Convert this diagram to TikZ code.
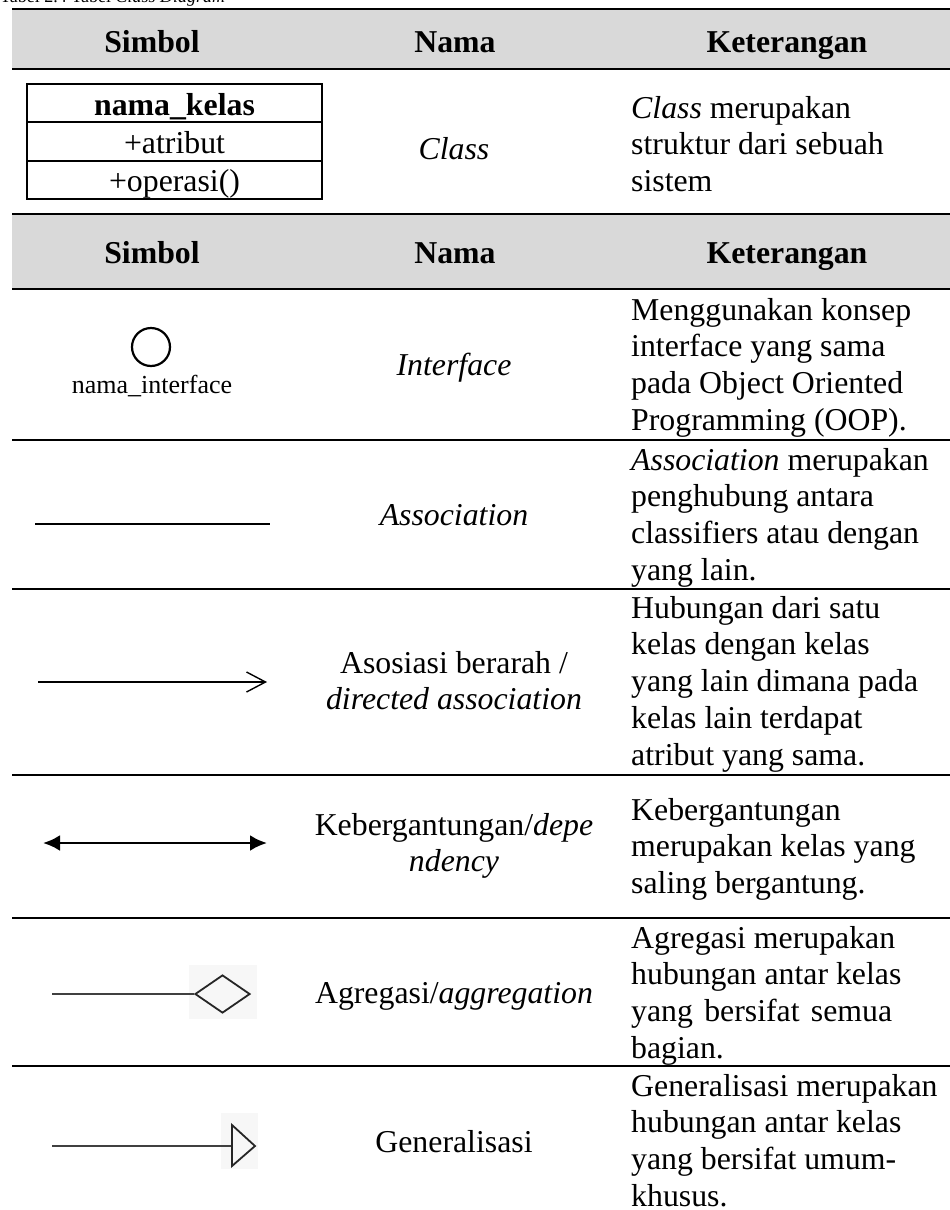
\documentclass[tikz,border=0pt]{standalone}
\usepackage{fontspec}
\setmainfont{Liberation Serif}
\usetikzlibrary{arrows.meta,shapes.geometric}

\definecolor{headgray}{HTML}{D9D9D9}
\definecolor{imgbg}{HTML}{F7F7F7}

\newcommand{\bodyfont}{\fontsize{31.8pt}{36.8pt}\selectfont}
\newcommand{\tinyfont}{\fontsize{26pt}{30pt}\selectfont}
\newcommand{\capfont}{\fontsize{18pt}{22pt}\selectfont}
% left-aligned and centred multi-line cells, baseline on the first line
\newcommand{\lcell}[1]{\parbox[t]{318pt}{\raggedright #1}}
\newcommand{\ccell}[1]{\parbox[t]{300pt}{\centering #1}}

\tikzset{
  rule/.style={line width=2.4pt},
  headband/.style={fill=headgray, draw=none},
  txt/.style={inner sep=0pt, font=\bodyfont},
  desc/.style={txt, anchor=base west},
  nama/.style={txt, anchor=base},
  head/.style={txt, anchor=base, font=\bodyfont\bfseries},
  classcell/.style={draw, line width=2pt, minimum width=295pt, minimum height=38.33pt,
    inner sep=0pt, text height=24pt, text depth=0pt, font=\bodyfont},
  ifacecircle/.style={circle, draw, line width=2.2pt, minimum size=38pt, inner sep=0pt},
  aggdiamond/.style={diamond, draw=black!85, line width=1.8pt, minimum width=55pt,
    minimum height=38pt, inner sep=0pt},
  imgpatch/.style={fill=imgbg, draw=none}
}

\begin{document}
\begin{tikzpicture}[x=1pt, y=-1pt]
\useasboundingbox (0,0) rectangle (950,1210);

% caption line, cut by the top edge
\node[anchor=base west, inner sep=0pt, font=\capfont] (caption) at (0,2)
  {Tabel 2.4 Tabel \textit{Class Diagram}};

% ---------- header bands ----------
\fill[headband] (12,9) rectangle (950,69);
\fill[headband] (12,214) rectangle (950,289);
\foreach \y in {9,69,214,289,440,589,775,918,1066}
  \draw[rule] (12,\y) -- (950,\y);

\node[head] (h1sym) at (152,52) {Simbol};
\node[head] (h1nam) at (455,52) {Nama};
\node[head] (h1ket) at (787,52) {Keterangan};
\node[head] (h2sym) at (152,263) {Simbol};
\node[head] (h2nam) at (455,263) {Nama};
\node[head] (h2ket) at (787,263) {Keterangan};

% ---------- Class ----------
\node[classcell, font=\bodyfont\bfseries] (clsname) at (174.5,103.2) {nama\_kelas};
\node[classcell] (clsattr) at (174.5,141.5) {+atribut};
\node[classcell] (clsop) at (174.5,179.8) {+operasi()};
\node[nama] (nclass) at (454,159) {\textit{Class}};
\node[desc] (kclass) at (631,118) {\lcell{\textit{Class} merupakan\\ struktur dari sebuah\\ sistem}};

% ---------- Interface ----------
\node[ifacecircle] (iface) at (151,347) {};
\node[inner sep=0pt, anchor=base, font=\tinyfont] (ifacelbl) at (152,393) {nama\_interface};
\node[nama] (niface) at (454,375) {\textit{Interface}};
\node[desc] (kiface) at (631,320) {\lcell{Menggunakan konsep\\ interface yang sama\\ pada Object Oriented\\ Programming (OOP).}};

% ---------- Association ----------
\coordinate (assocL) at (35,524);
\coordinate (assocR) at (270,524);
\draw[line width=2.6pt] (assocL) -- (assocR);
\node[nama] (nassoc) at (454,525) {\textit{Association}};
\node[desc] (kassoc) at (631,470) {\lcell{\textit{Association} merupakan\\ penghubung antara\\ classifiers atau dengan\\ yang lain.}};

% ---------- Directed association ----------
\coordinate (dirL) at (38,682);
\coordinate (dirR) at (267,682);
\draw[line width=1.4pt, -{Straight Barb[length=19pt,width=20pt]}] (dirL) -- (dirR);
\node[nama] (ndir) at (454,673) {\ccell{Asosiasi berarah /\\ \textit{directed association}}};
\node[desc] (kdir) at (631,618) {\lcell{Hubungan dari satu\\ kelas dengan kelas\\ yang lain dimana pada\\ kelas lain terdapat\\ atribut yang sama.}};

% ---------- Dependency ----------
\coordinate (depL) at (43,843);
\coordinate (depR) at (267,843);
\draw[line width=2.8pt, {Latex[length=17pt,width=16pt]}-{Latex[length=17pt,width=16pt]}] (depL) -- (depR);
\node[nama] (ndep) at (454,835) {\ccell{Kebergantungan/\textit{depe}\\ \textit{ndency}}};
\node[desc] (kdep) at (631,820) {\lcell{Kebergantungan\\ merupakan kelas yang\\ saling bergantung.}};

% ---------- Aggregation ----------
\fill[imgpatch] (189,965) rectangle (257,1019);
\coordinate (aggL) at (52,994);
\node[aggdiamond] (agg) at (222.5,994) {};
\draw[line width=2.1pt, black!75] (aggL) -- (agg.west);
\node[nama] (nagg) at (454,1003) {Agregasi/\textit{aggregation}};
\node[desc] (kagg) at (631,948) {\lcell{Agregasi merupakan\\ hubungan antar kelas\\ \makebox[261pt][s]{yang bersifat semua}\\ bagian.}};

% ---------- Generalization ----------
\fill[imgpatch] (221,1113) rectangle (258,1169);
\coordinate (genL) at (52,1146);
\coordinate (genTop) at (232,1125);
\coordinate (genTip) at (255,1146);
\coordinate (genBot) at (232,1166);
\coordinate (genMid) at (232,1146);
\draw[line width=2pt, black!75] (genL) -- (genMid);
\draw[line width=1.8pt, black!85, line join=miter] (genTop) -- (genTip) -- (genBot) -- cycle;
\node[nama] (ngen) at (454,1152) {Generalisasi};
\node[desc] (kgen) at (631,1096) {\lcell{Generalisasi merupakan\\ hubungan antar kelas\\ yang bersifat umum-\\ khusus.}};

\end{tikzpicture}
\end{document}
